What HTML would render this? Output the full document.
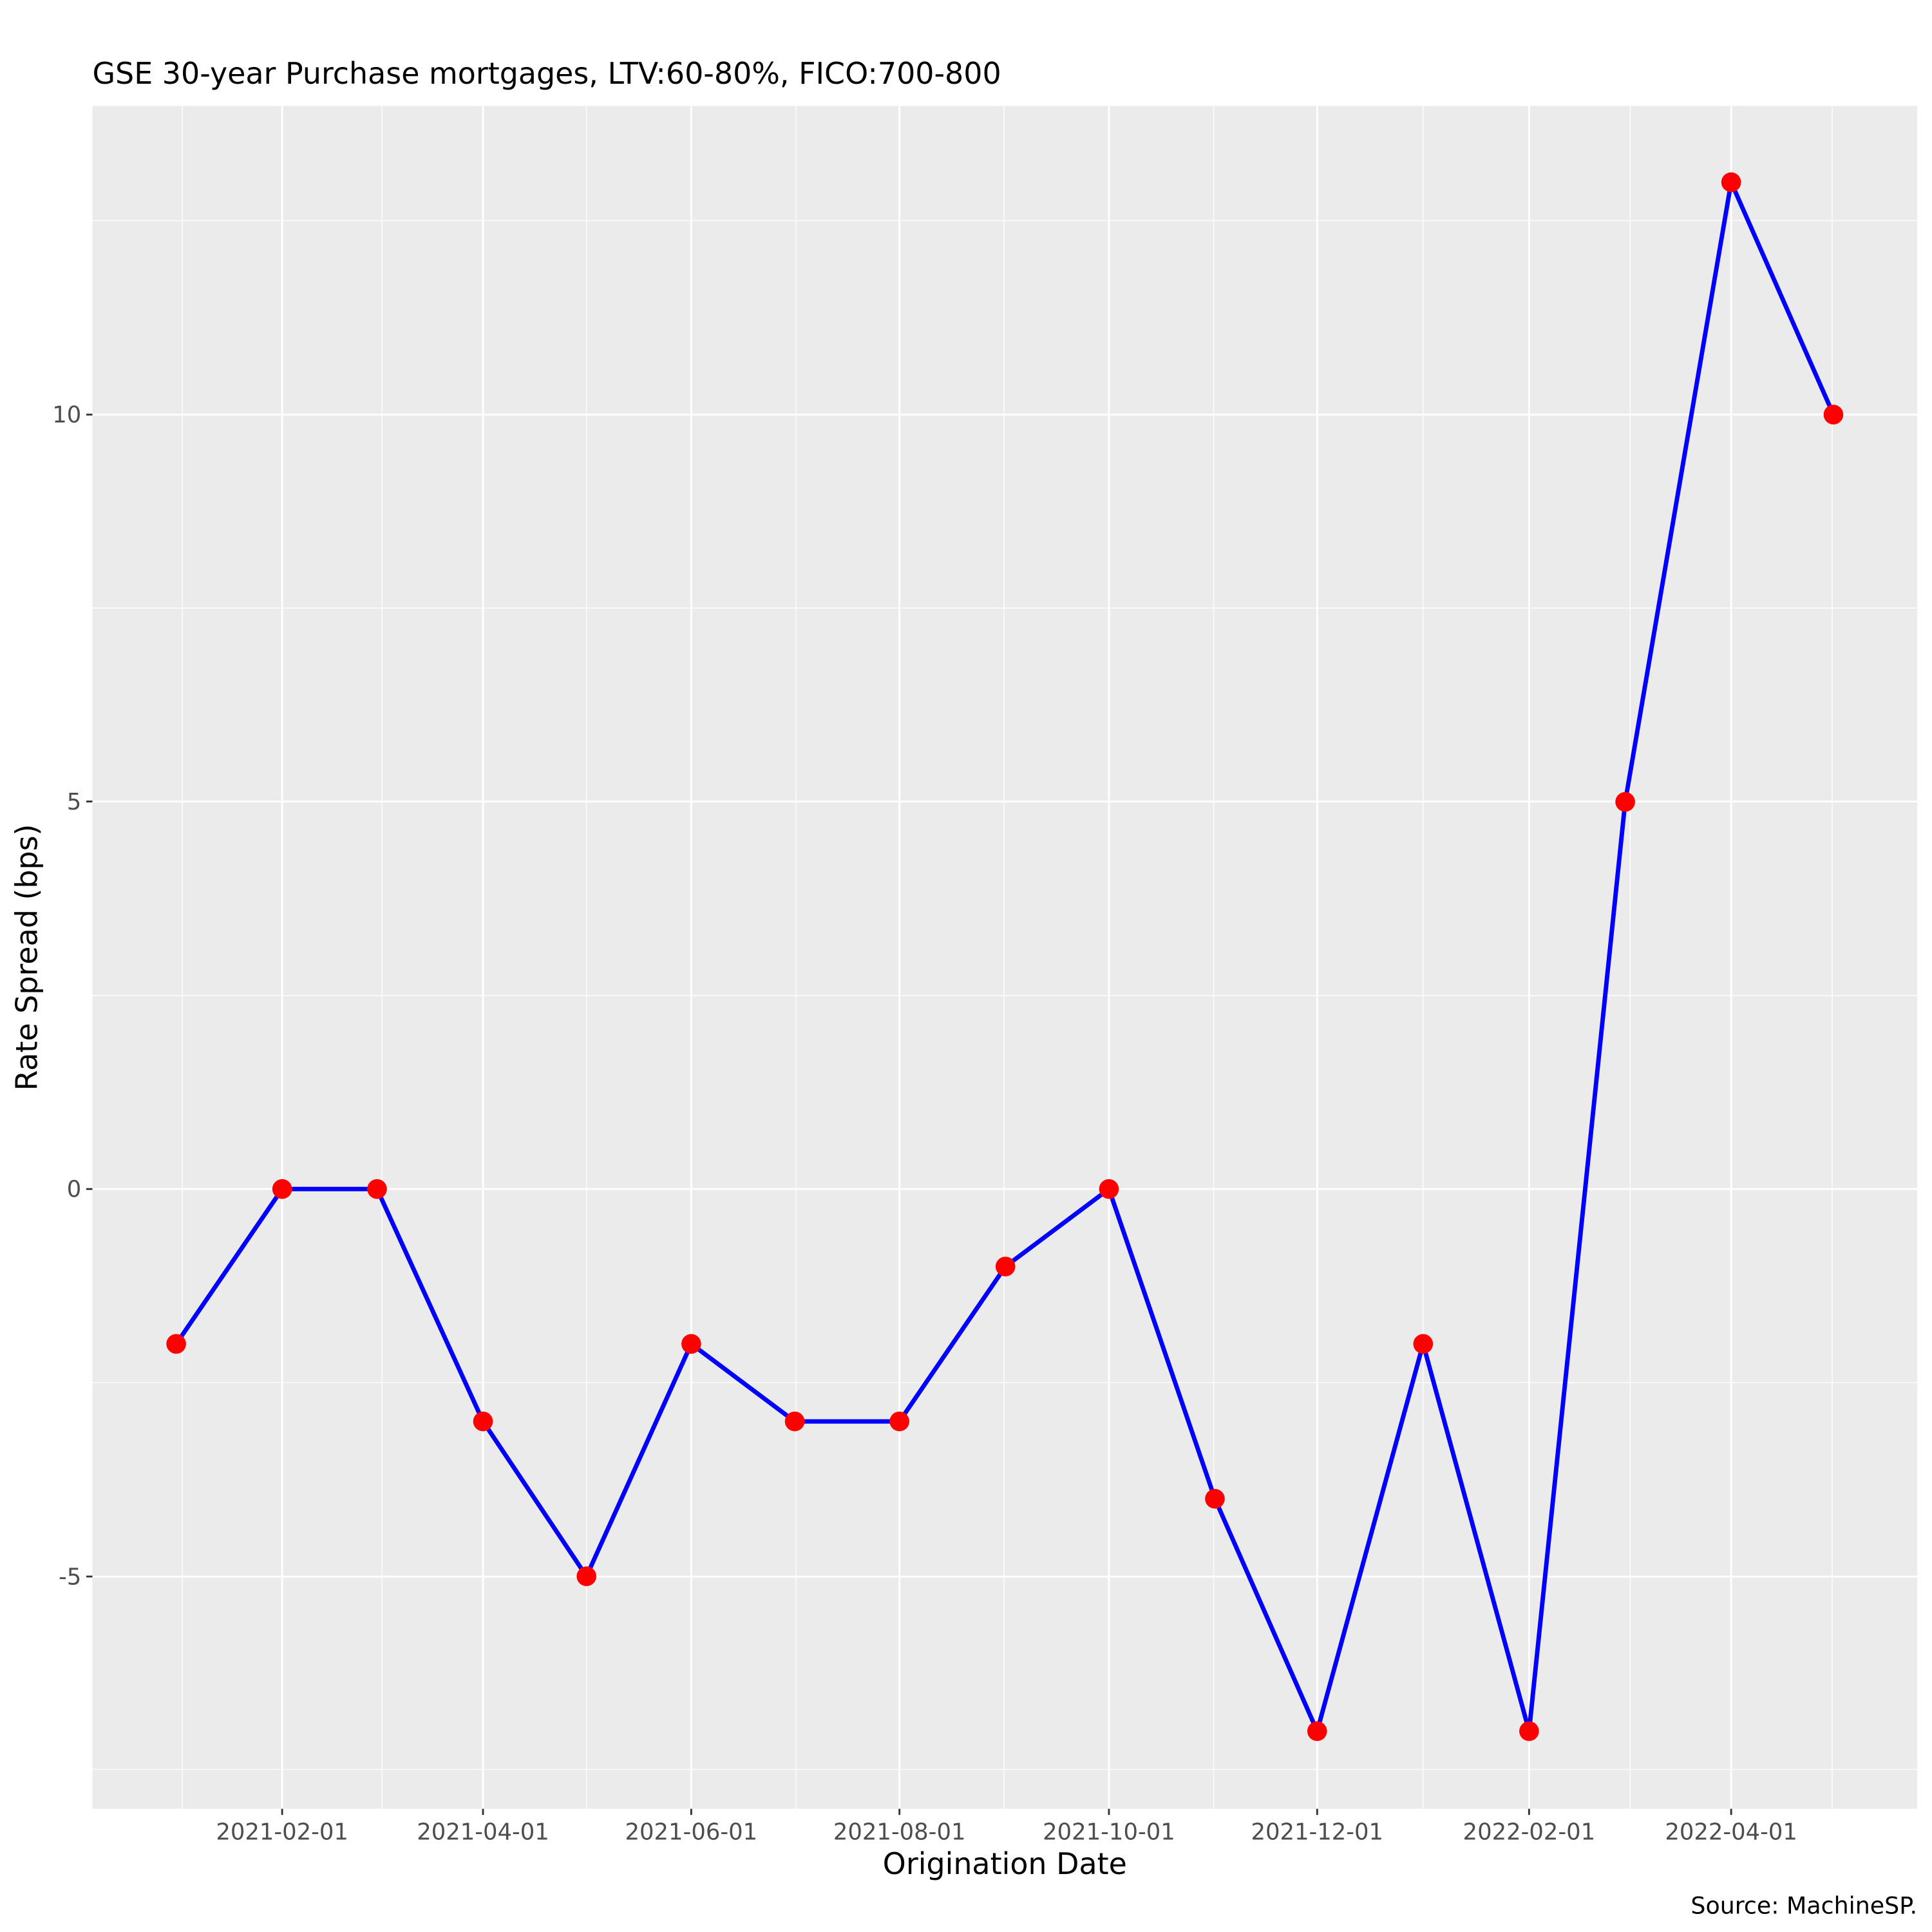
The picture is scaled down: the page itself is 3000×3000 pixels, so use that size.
<!DOCTYPE html>
<html><head><meta charset="utf-8"><style>html,body{margin:0;padding:0;background:#fff}svg{display:block}</style></head>
<body>
<svg width="3000" height="3000" viewBox="0 0 1568 1568" xmlns="http://www.w3.org/2000/svg" font-family="DejaVu Sans, Liberation Sans, sans-serif">
<rect x="0" y="0" width="1568" height="1568" fill="#fff"/>
<rect x="75" y="86" width="1481" height="1382" fill="#ebebeb"/>
<g stroke="#fff" stroke-width="0.7">
<line x1="75" x2="1556" y1="179" y2="179"/><line x1="75" x2="1556" y1="493.5" y2="493.5"/><line x1="75" x2="1556" y1="808" y2="808"/><line x1="75" x2="1556" y1="1122" y2="1122"/><line x1="75" x2="1556" y1="1436" y2="1436"/>
<line y1="86" y2="1468" x1="148" x2="148"/><line y1="86" y2="1468" x1="310" x2="310"/><line y1="86" y2="1468" x1="476" x2="476"/><line y1="86" y2="1468" x1="646" x2="646"/><line y1="86" y2="1468" x1="815" x2="815"/><line y1="86" y2="1468" x1="985" x2="985"/><line y1="86" y2="1468" x1="1155" x2="1155"/><line y1="86" y2="1468" x1="1323" x2="1323"/><line y1="86" y2="1468" x1="1487" x2="1487"/>
</g>
<g stroke="#fff" stroke-width="1.5">
<line x1="75" x2="1556" y1="336.5" y2="336.5"/><line x1="75" x2="1556" y1="650.5" y2="650.5"/><line x1="75" x2="1556" y1="965" y2="965"/><line x1="75" x2="1556" y1="1279.5" y2="1279.5"/>
<line y1="86" y2="1468" x1="229" x2="229"/><line y1="86" y2="1468" x1="392" x2="392"/><line y1="86" y2="1468" x1="561" x2="561"/><line y1="86" y2="1468" x1="730" x2="730"/><line y1="86" y2="1468" x1="900" x2="900"/><line y1="86" y2="1468" x1="1069" x2="1069"/><line y1="86" y2="1468" x1="1241" x2="1241"/><line y1="86" y2="1468" x1="1405" x2="1405"/>
</g>
<g stroke="#333" stroke-width="1.5">
<line x1="70" x2="75" y1="336.5" y2="336.5"/><line x1="70" x2="75" y1="650.5" y2="650.5"/><line x1="70" x2="75" y1="965" y2="965"/><line x1="70" x2="75" y1="1279.5" y2="1279.5"/>
<line y1="1468" y2="1473" x1="229" x2="229"/><line y1="1468" y2="1473" x1="392" x2="392"/><line y1="1468" y2="1473" x1="561" x2="561"/><line y1="1468" y2="1473" x1="730" x2="730"/><line y1="1468" y2="1473" x1="900" x2="900"/><line y1="1468" y2="1473" x1="1069" x2="1069"/><line y1="1468" y2="1473" x1="1241" x2="1241"/><line y1="1468" y2="1473" x1="1405" x2="1405"/>
</g>
<g fill="#4d4d4d" font-size="18.5" text-anchor="end">
<text x="66" y="343">10</text><text x="66" y="657">5</text><text x="66" y="971.5">0</text><text x="66" y="1286">-5</text>
</g>
<g fill="#4d4d4d" font-size="18.5" text-anchor="middle">
<text x="229" y="1493">2021-02-01</text><text x="392" y="1493">2021-04-01</text><text x="561" y="1493">2021-06-01</text><text x="730" y="1493">2021-08-01</text><text x="900" y="1493">2021-10-01</text><text x="1069" y="1493">2021-12-01</text><text x="1241" y="1493">2022-02-01</text><text x="1405" y="1493">2022-04-01</text>
</g>
<text x="815.5" y="1521" font-size="24" text-anchor="middle" fill="#000">Origination Date</text>
<text transform="translate(30,777) rotate(-90)" font-size="24" text-anchor="middle" fill="#000">Rate Spread (bps)</text>
<text x="75" y="68" font-size="24" fill="#000">GSE 30-year Purchase mortgages, LTV:60-80%, FICO:700-800</text>
<text x="1556" y="1553" font-size="19" text-anchor="end" fill="#000">Source: MachineSP.</text>
<polyline fill="none" stroke="#0000ff" stroke-width="3.6" stroke-linejoin="round" points="143,1090.7 229,965 306,965 392,1153.6 476,1279.3 561,1090.7 645,1153.6 730,1153.6 816,1027.9 900,965 986,1216.4 1069,1405 1155,1090.7 1241,1405 1319,650.8 1405,147.9 1488,336.5"/>
<g fill="#ff0000">
<circle cx="143" cy="1090.7" r="8"/><circle cx="229" cy="965" r="8"/><circle cx="306" cy="965" r="8"/><circle cx="392" cy="1153.6" r="8"/><circle cx="476" cy="1279.3" r="8"/><circle cx="561" cy="1090.7" r="8"/><circle cx="645" cy="1153.6" r="8"/><circle cx="730" cy="1153.6" r="8"/><circle cx="816" cy="1027.9" r="8"/><circle cx="900" cy="965" r="8"/><circle cx="986" cy="1216.4" r="8"/><circle cx="1069" cy="1405" r="8"/><circle cx="1155" cy="1090.7" r="8"/><circle cx="1241" cy="1405" r="8"/><circle cx="1319" cy="650.8" r="8"/><circle cx="1405" cy="147.9" r="8"/><circle cx="1488" cy="336.5" r="8"/>
</g>
</svg>
</body></html>
